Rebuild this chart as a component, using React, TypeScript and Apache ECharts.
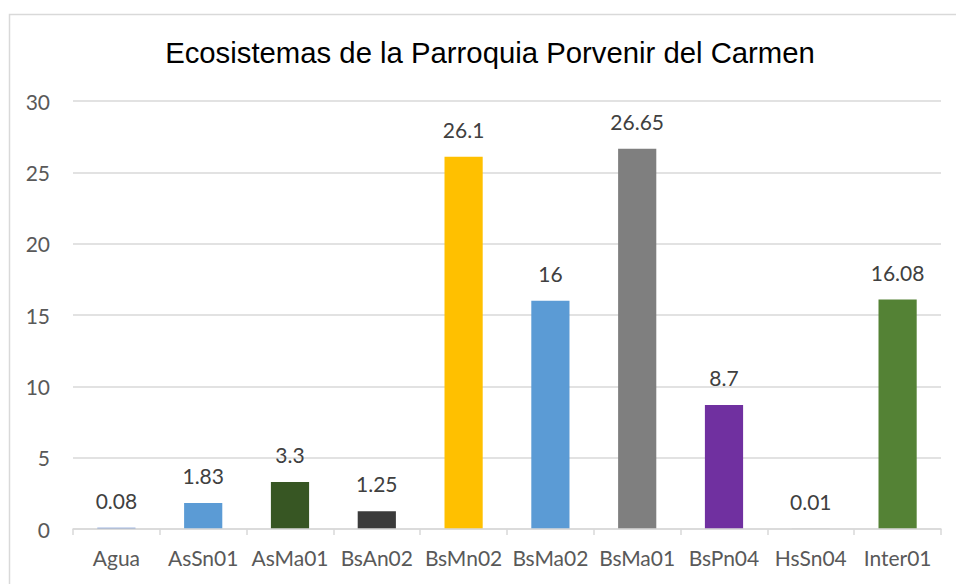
import React, { useEffect, useRef } from "react";
import * as echarts from "echarts";

const categories = ["Agua", "AsSn01", "AsMa01", "BsAn02", "BsMn02", "BsMa02", "BsMa01", "BsPn04", "HsSn04", "Inter01"];
const values = [0.08, 1.83, 3.3, 1.25, 26.1, 16, 26.65, 8.7, 0.01, 16.08];
const barColors = ["#4472C4", "#5B9BD5", "#375623", "#3B3B3B", "#FFC000", "#5B9BD5", "#7F7F7F", "#7030A0", "#A5A5A5", "#548235"];
const titleText = "Ecosistemas de la Parroquia Porvenir del Carmen";
const yMin = 0;
const yMax = 30;
const yStep = 5;

const FONT = "Lato, 'Open Sans', sans-serif";

export default function App() {
  const ref = useRef<HTMLDivElement>(null);
  useEffect(() => {
    if (!ref.current) return;
    const chart = echarts.init(ref.current, null, { renderer: "svg" });
    chart.setOption({
      animation: false,
      backgroundColor: "#ffffff",
      graphic: [
        {
          type: "rect",
          shape: { x: 9.5, y: 14.5, width: 1000, height: 1000 },
          style: { fill: "none", stroke: "#D9D9D9", lineWidth: 1.5 },
          silent: true,
          z: -1,
        },
      ],
      title: {
        text: titleText,
        left: 485,
        textAlign: "center",
        top: 33,
        textStyle: {
          fontFamily: "'Liberation Sans', Arial, sans-serif",
          fontSize: 29.3,
          fontWeight: "normal",
          color: "#000000",
        },
      },
      grid: { left: 73, right: 15, top: 101, bottom: 55, containLabel: false },
      xAxis: {
        type: "category",
        data: categories,
        z: 5,
        axisLine: { lineStyle: { color: "#D9D9D9", width: 1.5 } },
        axisTick: { show: true, length: 6, alignWithLabel: false, lineStyle: { color: "#D9D9D9", width: 1.5 } },
        axisLabel: { color: "#595959", fontFamily: FONT, fontSize: 21, margin: 18, interval: 0 },
      },
      yAxis: {
        type: "value",
        min: yMin,
        max: yMax,
        interval: yStep,
        axisLine: { show: false },
        axisTick: { show: false },
        splitLine: { lineStyle: { color: "#D9D9D9", width: 1.5 } },
        axisLabel: { color: "#595959", fontFamily: FONT, fontSize: 21, margin: 23 },
      },
      series: [
        {
          type: "bar",
          data: values.map((v, i) => ({ value: v, itemStyle: { color: barColors[i] } })),
          barWidth: "44%",
          label: {
            show: true,
            position: "top",
            distance: 17,
            color: "#404040",
            fontFamily: FONT,
            fontSize: 21,
          },
        },
      ],
    });
    return () => chart.dispose();
  }, []);
  return <div ref={ref} style={{ position: "absolute", left: 0, top: 0, width: 956, height: 584 }} />;
}
